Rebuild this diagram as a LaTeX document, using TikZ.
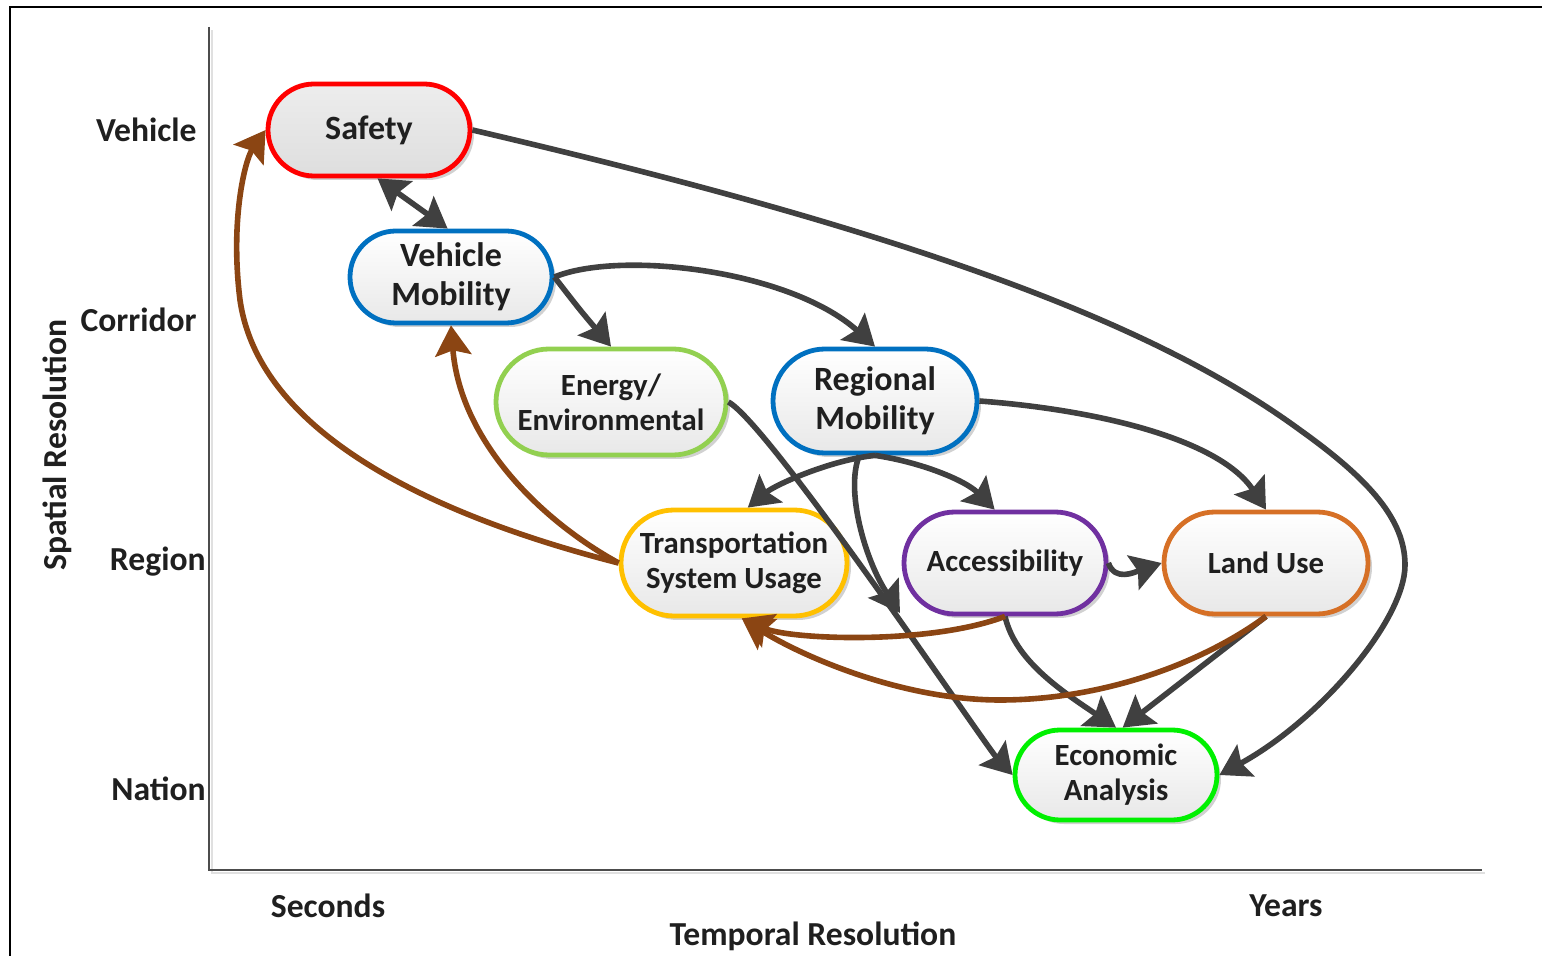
\documentclass[tikz,border=0pt]{standalone}
\usepackage{fontspec}
\setmainfont{Carlito}
\usetikzlibrary{shapes.misc,arrows.meta,shadows,calc}
\definecolor{conn}{RGB}{64,64,64}
\definecolor{brn}{RGB}{139,69,19}
\definecolor{cred}{RGB}{255,0,0}
\definecolor{cblue}{RGB}{0,112,192}
\definecolor{cgreen}{RGB}{146,208,80}
\definecolor{cyel}{RGB}{255,192,0}
\definecolor{cpur}{RGB}{112,48,160}
\definecolor{corg}{RGB}{214,112,38}
\definecolor{clime}{RGB}{0,240,0}
\begin{document}
\begin{tikzpicture}[x=0.5pt,y=-0.5pt,
  bx/.style={rounded rectangle, line width=2.4pt, align=center, inner sep=2pt,
    top color=white, bottom color=black!9, text=black!88,
    drop shadow={shadow xshift=2pt, shadow yshift=-2pt, opacity=0.18, fill=black},
    font=\bfseries\fontsize{15.4}{17.5}\selectfont},
  bigt/.style={font=\bfseries\fontsize{17}{19.5}\selectfont},
  axl/.style={font=\bfseries\fontsize{16.8}{19}\selectfont, text=black!88, inner sep=0pt},
  tip/.tip={Stealth[length=15pt,width=18pt,inset=2.5pt]},
  ga/.style={draw=conn, line width=2.8pt, -tip},
  gab/.style={draw=conn, line width=2.8pt, tip-tip},
  ba/.style={draw=brn, line width=2.8pt, -tip}
]
\useasboundingbox (0,0) rectangle (1542,956);
% frame
\draw[line width=1.3pt, black] (10,956) -- (10,7) -- (1542,7);
% axes
\draw[line width=1.2pt, black!12] (212,30) -- (212,873) -- (1485,873);
\draw[line width=1.1pt, black!70] (209,27) -- (209,870) -- (1482,870);

% axis labels
\node[axl, anchor=east] (lveh) at (197,130) {Vehicle};
\node[axl, anchor=east] (lcor) at (197,320) {Corridor};
\node[axl, anchor=east] (lreg) at (206,562) {Region};
\node[axl, anchor=east] (lnat) at (206,789) {Nation};
\node[axl, rotate=90] (lspat) at (57,445) {Spatial Resolution};
\node[axl] (lsec) at (328,906) {Seconds};
\node[axl] (lyrs) at (1286,906) {Years};
\node[axl] (ltemp) at (813,936) {Temporal Resolution};

% nodes
\node[bx, bigt, draw=cred, top color=black!7, bottom color=black!13, minimum width=105pt, minimum height=46pt] (safety) at (369,130) {Safety};
\node[bx, bigt, draw=cblue, minimum width=105pt, minimum height=46pt] (vm) at (451,277) {Vehicle\\Mobility};
\node[bx, draw=cgreen, minimum width=119pt, minimum height=53pt] (energy) at (611,402) {Energy/\\Environmental};
\node[bx, bigt, draw=cblue, minimum width=106pt, minimum height=52pt] (regional) at (875,401) {Regional\\Mobility};
\node[bx, draw=cyel, minimum width=117pt, minimum height=53pt] (tsu) at (734,563) {Transportation\\System Usage};
\node[bx, draw=cpur, minimum width=105pt, minimum height=51pt] (access) at (1005,563) {Accessibility};
\node[bx, draw=corg, minimum width=106pt, minimum height=51pt] (landuse) at (1266,563) {Land Use};
\node[bx, draw=clime, minimum width=105pt, minimum height=45pt] (econ) at (1116,775) {Economic\\Analysis};

\coordinate (rmend) at (900,613);

% gray connectors
\draw[gab] (safety.-80) -- (vm.94);
\draw[ga] (safety.east) .. controls (900,230) and (1150,320) .. (1300,430)
   .. controls (1370,480) and (1405,520) .. (1405,565)
   .. controls (1405,620) and (1320,720) .. (econ.east);
\draw[ga] (vm.east) .. controls (580,310) .. (energy.north);
\draw[ga] (vm.east) .. controls (620,250) and (790,270) .. (regional.north);
\draw[ga] (energy.east) .. controls (770,425) and (985,745) .. (econ.west);
\draw[ga] (regional.south) .. controls (830,460) and (775,485) .. (tsu.76);
\draw[ga] (regional.south) .. controls (920,462) and (965,480) .. (access.101);
\draw[ga] (regional.-106) .. controls (845,490) and (865,560) .. (rmend);
\draw[ga] (regional.east) .. controls (1100,410) and (1220,440) .. (landuse.north);
\draw[ga] (access.east) .. controls (1115,582) and (1135,572) .. (landuse.west);
\draw[ga] (access.south) .. controls (1015,660) and (1060,690) .. (econ.north);
\draw[ga] (landuse.south) -- (econ.82);

% brown connectors
\draw[ba] (access.south) .. controls (930,645) and (790,640) .. (tsu.-82);
\draw[ba] (landuse.south) .. controls (1200,665) and (1100,700) .. (1000,700)
   .. controls (900,700) and (800,655) .. (tsu.-82);
\draw[ba] (tsu.west) .. controls (540,520) and (460,440) .. (vm.south);
\draw[ba] (tsu.west) .. controls (450,520) and (260,440) .. (240,300)
   .. controls (230,220) and (245,160) .. (safety.west);
\end{tikzpicture}
\end{document}
